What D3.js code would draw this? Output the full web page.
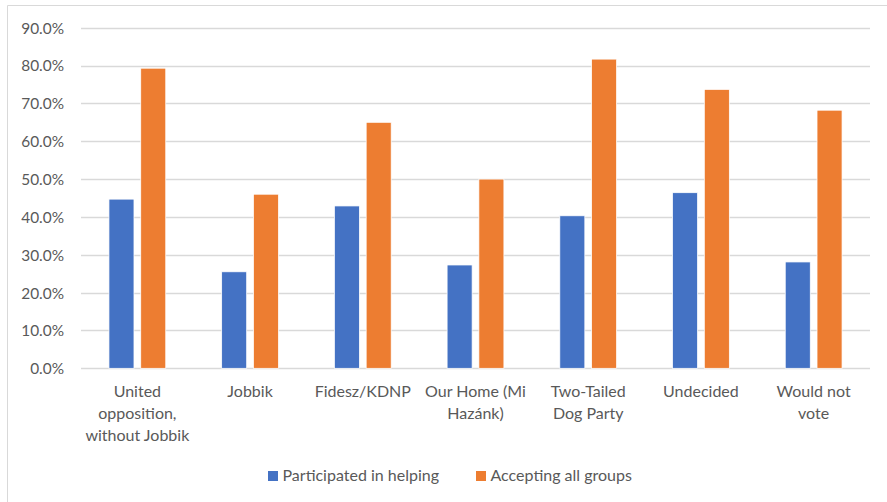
<!DOCTYPE html>
<html>
<head>
<meta charset="utf-8">
<script src="https://cdn.jsdelivr.net/npm/d3@7"></script>
<style>
  body { margin: 0; background: #fff; }
  svg text { font-family: Lato, "Open Sans", sans-serif; fill: #595959; }
</style>
</head>
<body>
<div id="chart"></div>
<script>
// Chart data
const categories = ["United opposition, without Jobbik", "Jobbik", "Fidesz/KDNP", "Our Home (Mi Hazánk)", "Two-Tailed Dog Party", "Undecided", "Would not vote"];
const categoryLines = [
  ["United", "opposition,", "without Jobbik"],
  ["Jobbik"],
  ["Fidesz/KDNP"],
  ["Our Home (Mi", "Hazánk)"],
  ["Two-Tailed", "Dog Party"],
  ["Undecided"],
  ["Would not", "vote"]
];
const seriesNames = ["Participated in helping", "Accepting all groups"];
const participated = [0.447, 0.255, 0.429, 0.273, 0.403, 0.464, 0.281];
const accepting = [0.793, 0.460, 0.650, 0.500, 0.817, 0.737, 0.682];
const yTicks = [0, 0.1, 0.2, 0.3, 0.4, 0.5, 0.6, 0.7, 0.8, 0.9];
const colors = ["#4472C4", "#ED7D31"];

const width = 887, height = 502;
const plot = { left: 81, right: 870, top: 27.7, bottom: 368.3 };

const svg = d3.select("#chart").append("svg")
  .attr("width", width)
  .attr("height", height);

// Chart border (top and left visible)
svg.append("path")
  .attr("d", `M7.5,${height}V5.5H${width}`)
  .attr("fill", "none")
  .attr("stroke", "#D9D9D9")
  .attr("stroke-width", 1);

// Scales
const x0 = d3.scaleBand()
  .domain(categories)
  .range([plot.left, plot.right])
  .paddingInner(0.496)
  .paddingOuter(0.248);

const x1 = d3.scaleBand()
  .domain(seriesNames)
  .range([0, x0.bandwidth()])
  .paddingInner(0.2126);

const y = d3.scaleLinear()
  .domain([0, 0.9])
  .range([plot.bottom, plot.top]);

// Gridlines
svg.append("g")
  .selectAll("line")
  .data(yTicks)
  .enter()
  .append("line")
  .attr("x1", plot.left)
  .attr("x2", plot.right)
  .attr("y1", d => Math.round(y(d)) + 0.5)
  .attr("y2", d => Math.round(y(d)) + 0.5)
  .attr("stroke", "#D9D9D9")
  .attr("stroke-width", 1.3);

// Y axis labels
const yAxis = svg.append("g")
  .attr("transform", `translate(${plot.left - 17},0)`)
  .call(d3.axisLeft(y).tickValues(yTicks).tickFormat(d3.format(".1%")).tickSize(0).tickPadding(0));
yAxis.select(".domain").remove();
yAxis.selectAll("text")
  .attr("font-size", "15.4px")
  .attr("dy", "0.35em")
  .style("font-family", "Lato, sans-serif")
  .attr("fill", "#595959");

// Bars
const series = [participated, accepting];
const groups = svg.append("g")
  .selectAll("g")
  .data(categories)
  .enter()
  .append("g")
  .attr("transform", d => `translate(${x0(d)},0)`);

groups.selectAll("rect")
  .data((d, i) => seriesNames.map((s, j) => ({ key: s, value: series[j][i], color: colors[j] })))
  .enter()
  .append("rect")
  .attr("x", d => x1(d.key))
  .attr("y", d => y(d.value))
  .attr("width", x1.bandwidth())
  .attr("height", d => y(0) - y(d.value))
  .attr("fill", d => d.color)
  .attr("stroke", "#fff")
  .attr("stroke-width", 0.75);

// Category labels
const labels = svg.append("g")
  .selectAll("text")
  .data(categories)
  .enter()
  .append("text")
  .attr("text-anchor", "middle")
  .attr("font-size", "16px")
  .attr("x", d => x0(d) + x0.bandwidth() / 2)
  .attr("y", 397);

labels.selectAll("tspan")
  .data((d, i) => categoryLines[i])
  .enter()
  .append("tspan")
  .attr("x", function () { return this.parentNode.getAttribute("x"); })
  .attr("dy", (d, i) => i === 0 ? 0 : 22)
  .text(d => d);

// Legend
const legendItems = [
  { name: seriesNames[0], color: colors[0], x: 268 },
  { name: seriesNames[1], color: colors[1], x: 476 }
];
const legend = svg.append("g")
  .selectAll("g")
  .data(legendItems)
  .enter()
  .append("g")
  .attr("transform", d => `translate(${d.x},471)`);

legend.append("rect")
  .attr("width", 10)
  .attr("height", 10)
  .attr("fill", d => d.color);

legend.append("text")
  .attr("x", 14.5)
  .attr("y", 10)
  .attr("font-size", "16px")
  .text(d => d.name);
</script>
</body>
</html>
